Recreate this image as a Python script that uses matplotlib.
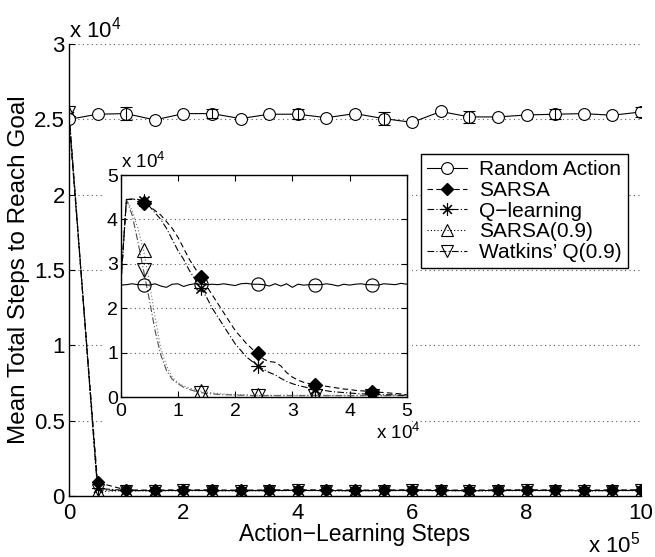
import matplotlib
matplotlib.use('Agg')
import matplotlib.pyplot as plt
from matplotlib.patches import Rectangle

plt.rcParams['font.family'] = ['Liberation Sans', 'DejaVu Sans']
plt.rcParams['mathtext.fontset'] = 'custom'
plt.rcParams['mathtext.rm'] = 'Liberation Sans'

# ---------------- data (main plot, x in units of 1e5, y in units of 1e4) ----------------
main_x = [0, 0.5, 1, 1.5, 2, 2.5, 3, 3.5, 4, 4.5, 5, 5.5, 6, 6.5, 7, 7.5, 8, 8.5, 9, 9.5, 10]
random_main = [2.50, 2.534, 2.538, 2.496, 2.538, 2.538, 2.505, 2.534, 2.534, 2.511, 2.538,
               2.505, 2.480, 2.552, 2.516, 2.516, 2.529, 2.534, 2.538, 2.527, 2.549]
err_x = [1, 2.5, 4, 5.5, 7, 8.5, 10]
err_y = [2.538, 2.538, 2.534, 2.505, 2.516, 2.534, 2.549]
err_h = [0.044, 0.030, 0.034, 0.041, 0.038, 0.034, 0.031]
sarsa_main = [2.50, 0.090, 0.040, 0.039, 0.041, 0.040, 0.039, 0.040, 0.041, 0.040, 0.039,
              0.040, 0.041, 0.040, 0.039, 0.040, 0.041, 0.040, 0.039, 0.040, 0.041]
qlearn_main = [2.52, 0.050, 0.037, 0.036, 0.038, 0.037, 0.036, 0.037, 0.038, 0.037, 0.036,
               0.037, 0.038, 0.037, 0.036, 0.037, 0.038, 0.037, 0.036, 0.037, 0.038]
sarsa9_main = [2.54, 0.030, 0.035, 0.034, 0.036, 0.035, 0.034, 0.035, 0.036, 0.035, 0.034,
               0.035, 0.036, 0.035, 0.034, 0.035, 0.036, 0.035, 0.034, 0.035, 0.036]
watq9_main = [2.55, 0.040, 0.036, 0.035, 0.037, 0.036, 0.035, 0.036, 0.037, 0.036, 0.035,
              0.036, 0.037, 0.036, 0.035, 0.036, 0.037, 0.036, 0.035, 0.036, 0.037]

# ---------------- data (inset, x in units of 1e4, y in units of 1e4) ----------------
ins_x = [0.0, 0.1, 0.2, 0.3, 0.4, 0.5, 0.6, 0.7, 0.8, 0.9,
         1.0, 1.1, 1.2, 1.3, 1.4, 1.5, 1.6, 1.7, 1.8, 1.9,
         2.0, 2.1, 2.2, 2.3, 2.4, 2.5, 2.6, 2.7, 2.8, 2.9,
         3.0, 3.1, 3.2, 3.3, 3.4, 3.5, 3.6, 3.7, 3.8, 3.9,
         4.0, 4.1, 4.2, 4.3, 4.4, 4.5, 4.6, 4.7, 4.8, 4.9, 5.0]
random_ins = [2.52, 2.53, 2.55, 2.53, 2.53, 2.52, 2.55, 2.50, 2.47, 2.54,
              2.55, 2.49, 2.53, 2.55, 2.54, 2.53, 2.54, 2.53, 2.55, 2.53,
              2.51, 2.55, 2.56, 2.54, 2.54, 2.53, 2.50, 2.55, 2.50, 2.55,
              2.47, 2.54, 2.52, 2.53, 2.53, 2.53, 2.55, 2.53, 2.50, 2.54,
              2.52, 2.54, 2.55, 2.53, 2.53, 2.52, 2.55, 2.54, 2.53, 2.56, 2.54]
sarsa_ins = [2.50, 4.45, 4.46, 4.45, 4.36, 4.30, 4.20, 4.10, 3.95, 3.80,
             3.60, 3.35, 3.10, 2.90, 2.70, 2.50, 2.30, 2.10, 1.90, 1.70,
             1.50, 1.35, 1.20, 1.08, 0.98, 0.85, 0.80, 0.78, 0.70, 0.55,
             0.45, 0.38, 0.33, 0.30, 0.28, 0.26, 0.24, 0.22, 0.20, 0.18,
             0.17, 0.15, 0.14, 0.13, 0.12, 0.11, 0.10, 0.09, 0.08, 0.07, 0.05]
qlearn_ins = [2.50, 4.45, 4.45, 4.45, 4.42, 4.30, 4.15, 4.00, 3.80, 3.55,
              3.30, 3.10, 2.85, 2.65, 2.45, 2.25, 2.00, 1.80, 1.60, 1.40,
              1.20, 1.05, 0.90, 0.80, 0.70, 0.62, 0.55, 0.50, 0.42, 0.35,
              0.30, 0.26, 0.23, 0.20, 0.18, 0.16, 0.14, 0.12, 0.11, 0.10,
              0.09, 0.08, 0.07, 0.07, 0.06, 0.06, 0.05, 0.05, 0.05, 0.04, 0.04]
sarsa9_ins = [2.50, 4.45, 4.20, 3.80, 3.30, 2.60, 1.80, 1.10, 0.70, 0.45,
              0.32, 0.25, 0.20, 0.16, 0.13, 0.11, 0.09, 0.08, 0.07, 0.06,
              0.05, 0.05, 0.05, 0.04, 0.04, 0.04, 0.04, 0.04, 0.04, 0.04,
              0.04, 0.04, 0.04, 0.04, 0.04, 0.04, 0.04, 0.04, 0.04, 0.04,
              0.04, 0.04, 0.04, 0.04, 0.04, 0.04, 0.04, 0.04, 0.04, 0.04, 0.04]
watq9_ins = [2.50, 4.45, 4.10, 3.50, 2.85, 2.20, 1.50, 0.95, 0.60, 0.40,
             0.30, 0.22, 0.17, 0.13, 0.10, 0.08, 0.07, 0.06, 0.05, 0.05,
             0.04, 0.04, 0.04, 0.03, 0.03, 0.03, 0.03, 0.03, 0.03, 0.03,
             0.03, 0.03, 0.03, 0.03, 0.03, 0.03, 0.03, 0.03, 0.03, 0.03,
             0.03, 0.03, 0.03, 0.03, 0.03, 0.03, 0.03, 0.03, 0.03, 0.03, 0.03]

labels = ['Random Action', 'SARSA', 'Q\u2212learning', 'SARSA(0.9)', 'Watkins\u2019 Q(0.9)']
main_xticks = [0, 2, 4, 6, 8, 10]
main_yticks = [0, 0.5, 1, 1.5, 2, 2.5, 3]
main_yticklabels = ['0', '0.5', '1', '1.5', '2', '2.5', '3']
ins_ticks = [0, 1, 2, 3, 4, 5]

W, H = 655, 557
fig = plt.figure(figsize=(W / 100, H / 100), dpi=100)

ax = fig.add_axes([69 / W, 1 - 496 / H, (641 - 69) / W, (496 - 44) / H])
ax.set_xlim(0, 10)
ax.set_ylim(0, 3)
for s in ['top', 'right']:
    ax.spines[s].set_visible(False)
for s in ['left', 'bottom']:
    ax.spines[s].set_linewidth(1.0)
ax.set_xticks(main_xticks)
ax.set_xticklabels([str(t) for t in main_xticks])
ax.set_yticks(main_yticks)
ax.set_yticklabels(main_yticklabels)
ax.tick_params(direction='in', length=4, labelsize=16, pad=3)
ax.tick_params(axis='x', pad=5)
ax.yaxis.grid(True, linestyle=(0, (1, 3)), color='0.35', linewidth=0.8)
ax.set_axisbelow(True)

asterisk = (8, 2, 0)
lw = 0.8
ls_sarsa = (0, (5, 3))
ls_q = (0, (6, 2, 1, 2))
ls_s9 = (0, (1, 2))
ls_w9 = (0, (6, 2, 1, 2))

h_w9, = ax.plot(main_x, watq9_main, linestyle=ls_w9, color='k', lw=lw, marker='v', ms=8.5,
                mfc='none', mec='k', mew=0.8)
h_s9, = ax.plot(main_x, sarsa9_main, linestyle=ls_s9, color='k', lw=lw, marker='^', ms=8.5,
                mfc='none', mec='k', mew=0.8)
h_q, = ax.plot(main_x, qlearn_main, linestyle=ls_q, color='k', lw=lw, marker=asterisk, ms=9,
               mec='k', mew=0.8)
h_s, = ax.plot(main_x, sarsa_main, linestyle=ls_sarsa, color='k', lw=lw, marker='D', ms=6.5,
               mfc='k', mec='k')
h_r, = ax.plot(main_x, random_main, '-', color='k', lw=lw, marker='o', ms=8.5,
               mfc='white', mec='k', mew=0.8)
ax.errorbar(err_x, err_y, yerr=err_h, fmt='none', ecolor='k', elinewidth=0.8, capsize=4,
            capthick=0.8, zorder=3)

ax.set_xlabel('Action\u2212Learning Steps', fontsize=16.5, labelpad=-1)
ax.set_ylabel('Mean Total Steps to Reach Goal', fontsize=17.5, labelpad=3)
fig.text(69 / W, 1 - 44 / H + 0.002, r'x 10$^{4}$', fontsize=16, ha='left', va='bottom')
fig.text(640 / W, 1 - 553 / H, r'x 10$^{5}$', fontsize=16, ha='right', va='baseline')

# white backing behind inset (covers main grid)
ax.add_patch(Rectangle((104 / W, 1 - 445 / H), (412 - 104) / W, (445 - 150) / H,
                       transform=fig.transFigure, facecolor='white', edgecolor='none',
                       zorder=10, clip_on=False))

# ---------------- inset ----------------
ax2 = fig.add_axes([120.7 / W, 1 - 397 / H, 286 / W, 222 / H], zorder=2)
ax2.set_xlim(0, 5)
ax2.set_ylim(0, 5)
ax2.set_xticks(ins_ticks)
ax2.set_yticks(ins_ticks)
ax2.set_xticklabels([str(t) for t in ins_ticks])
ax2.set_yticklabels([str(t) for t in ins_ticks])
ax2.tick_params(direction='in', length=4, labelsize=14, pad=2, top=True, right=True)
ax2.tick_params(axis='x', pad=4)
for s in ax2.spines.values():
    s.set_linewidth(1.0)
ax2.yaxis.grid(True, linestyle=(0, (1, 3)), color='0.35', linewidth=0.8)
ax2.set_axisbelow(True)

mk = (4, 10)
ax2.plot(ins_x, watq9_ins, linestyle=ls_w9, color='0.3', lw=lw, marker='v', ms=10,
         mfc='none', mec='k', mew=0.8, markevery=mk)
ax2.plot(ins_x, sarsa9_ins, linestyle=ls_s9, color='0.45', lw=lw, marker='^', ms=10,
         mfc='none', mec='k', mew=0.8, markevery=mk)
ax2.plot(ins_x, qlearn_ins, linestyle=ls_q, color='k', lw=lw, marker=asterisk, ms=10,
         mec='k', mew=0.8, markevery=mk)
ax2.plot(ins_x, sarsa_ins, linestyle=ls_sarsa, color='k', lw=lw, marker='D', ms=7.5,
         mfc='k', mec='k', markevery=mk)
ax2.plot(ins_x, random_ins, '-', color='k', lw=lw, marker='o', ms=9.5,
         mfc='none', mec='k', mew=0.8, markevery=mk)

fig.text(121 / W, 1 - 173 / H + 0.002, r'x 10$^{4}$', fontsize=13.5, ha='left', va='bottom')
fig.text(421 / W, 1 - 439 / H, r'x 10$^{4}$', fontsize=13.5, ha='right', va='baseline')

# ---------------- legend ----------------
leg = ax.legend([h_r, h_s, h_q, h_s9, h_w9], labels, loc='upper left',
                bbox_to_anchor=(421 / W, 1 - 154 / H), bbox_transform=fig.transFigure,
                fontsize=15, frameon=True, fancybox=False, framealpha=1, edgecolor='k',
                handlelength=1.9, handletextpad=0.6, labelspacing=0.08, borderpad=0.3,
                borderaxespad=0)
leg.get_frame().set_linewidth(1.0)
leg.set_zorder(20)

fig.savefig('out.png', dpi=100)
